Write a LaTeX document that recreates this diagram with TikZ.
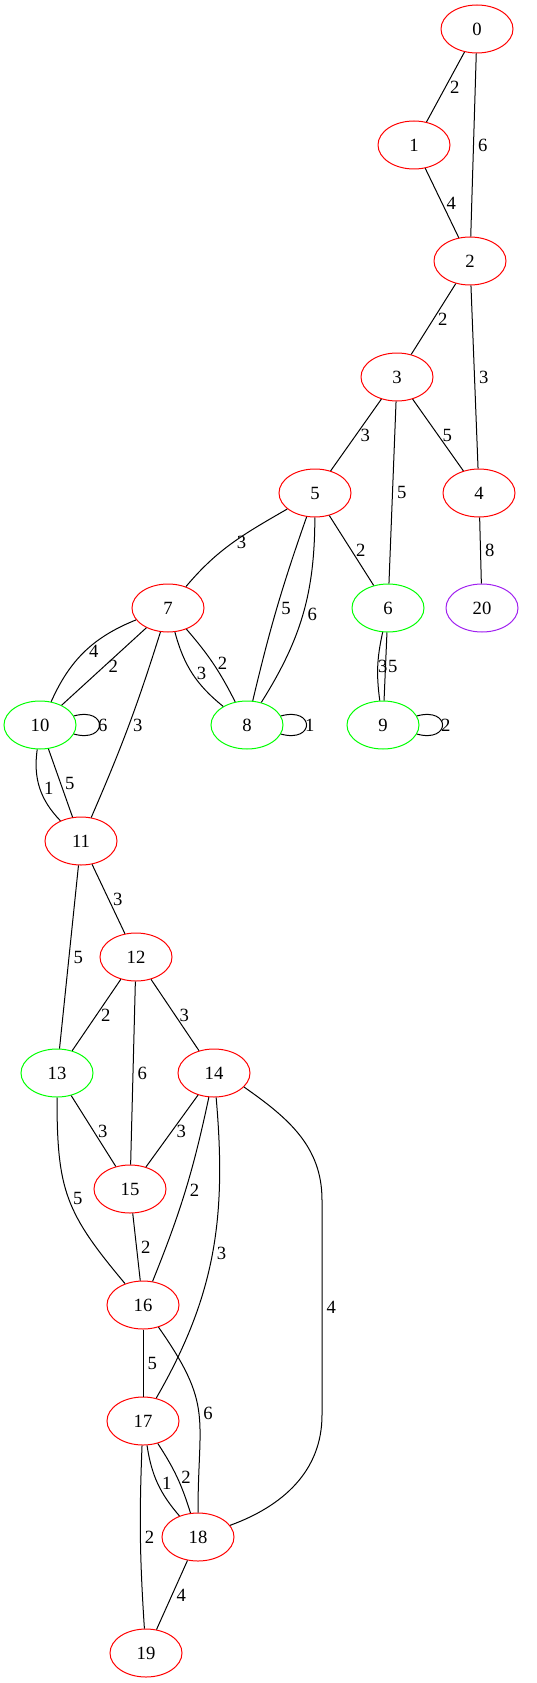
\documentclass[tikz,border=0pt]{standalone}
\usepackage{fontspec}
\setmainfont{Liberation Serif}
\usetikzlibrary{shapes.geometric}
\definecolor{vred}{RGB}{255,0,0}
\definecolor{vgreen}{RGB}{0,255,0}
\definecolor{vpurple}{RGB}{160,32,240}
\begin{document}
\begin{tikzpicture}[x=0.75pt, y=-0.75pt, line width=0.75pt,
    font=\fontsize{14}{16}\selectfont,
    vertex/.style={ellipse, draw=vred, minimum width=54pt, minimum height=36pt, inner sep=0pt},
    good/.style={vertex, draw=vgreen},
    lone/.style={vertex, draw=vpurple},
    w/.style={right, inner sep=3pt},
    wloop/.style={right, inner sep=0pt, xshift=-1.5pt}]
      \useasboundingbox (0,0) rectangle (536,1683);

      \node[vertex] (zero) at (477,29) {0};
      \node[vertex] (one) at (414,145) {1};
      \node[vertex] (two) at (470,261) {2};
      \node[vertex] (three) at (397,377) {3};
      \node[vertex] (four) at (479,493) {4};
      \node[vertex] (five) at (315,493) {5};

      \node[vertex] (seven) at (168,608) {7};
      \node[good] (six) at (388,608) {6};
      \node[lone] (twenty) at (482,608) {20};

      \node[good] (ten) at (40,725) {10};
      \node[good] (eight) at (247,725) {8};
      \node[good] (nine) at (383,725) {9};

      \node[vertex] (eleven) at (81,841) {11};
      \node[vertex] (twelve) at (136,957) {12};
      \node[good] (thirteen) at (57,1073) {13};
      \node[vertex] (fourteen) at (214,1073) {14};
      \node[vertex] (fifteen) at (130,1189) {15};
      \node[vertex] (sixteen) at (143,1305) {16};
      \node[vertex] (seventeen) at (143,1421) {17};
      \node[vertex] (eighteen) at (198,1537) {18};
      \node[vertex] (nineteen) at (146,1653) {19};

      \coordinate (bend_top) at (322,1200);
      \coordinate (bend_bot) at (322,1415);

      \draw (zero) -- node[w]{2} (one);
      \draw (zero) -- node[w]{6} (two);
      \draw (one) -- node[w]{4} (two);
      \draw (two) -- node[w]{2} (three);
      \draw (two) -- node[w]{3} (four);
      \draw (three) -- node[w]{3} (five);
      \draw (three) -- node[w]{5} (six);
      \draw (three) -- node[w]{5} (four);
      \draw (four) -- node[w]{8} (twenty);

      \draw (five) to[out=210,in=50] node[w]{3} (seven);
      \draw (five) to[bend right=3] node[w]{5} (eight);
      \draw (five) to[bend left=16] node[w]{6} (eight);
      \draw (five) -- node[w]{2} (six);
      \draw (six) to[bend right=10] node[w, xshift=-3pt]{3} (nine);
      \draw (six) -- node[w, xshift=-1.5pt]{5} (nine);

      \draw (seven) to[bend right=22] node[w]{4} (ten);
      \draw (seven) -- node[w]{2} (ten);
      \draw (seven) to[bend right=18] node[w]{3} (eight);
      \draw (seven) to[bend left=7] node[w]{2} (eight);
      \draw (seven) to[bend left=3] node[w]{3} (eleven);

      \draw (ten) to[out=15,in=-15,looseness=5] node[wloop]{6} (ten);
      \draw (eight) to[out=15,in=-15,looseness=5] node[wloop]{1} (eight);
      \draw (nine) to[out=15,in=-15,looseness=5] node[wloop]{2} (nine);

      \draw (ten) to[bend right=26] node[w]{1} (eleven);
      \draw (ten) -- node[w]{5} (eleven);
      \draw (eleven) -- node[w]{3} (twelve);
      \draw (eleven) -- node[w]{5} (thirteen);
      \draw (twelve) -- node[w]{2} (thirteen);
      \draw (twelve) -- node[w]{6} (fifteen);
      \draw (twelve) -- node[w]{3} (fourteen);

      \draw (thirteen) -- node[w]{3} (fifteen);
      \draw (thirteen) to[out=-90,in=130,looseness=1.2] node[w]{5} (sixteen);
      \draw (fourteen) -- node[w]{3} (fifteen);
      \draw (fourteen) to[bend left=5] node[w]{2} (sixteen);
      \draw (fourteen) to[out=-85,in=60] node[w]{3} (seventeen);
      \draw (fourteen.-25) to[out=-35,in=90] (bend_top) -- node[w]{4} (bend_bot) to[out=-90,in=20] (eighteen);

      \draw (fifteen) -- node[w]{2} (sixteen);
      \draw (sixteen) -- node[w]{5} (seventeen);
      \draw (sixteen) to[out=-55,in=90,looseness=1.3] node[w]{6} (eighteen);
      \draw (seventeen) to[bend right=16] node[w]{1} (eighteen);
      \draw (seventeen) to[bend left=8] node[w]{2} (eighteen);
      \draw (seventeen) to[bend right=3] node[w]{2} (nineteen);
      \draw (eighteen) -- node[w]{4} (nineteen);

    \end{tikzpicture}
\end{document}
